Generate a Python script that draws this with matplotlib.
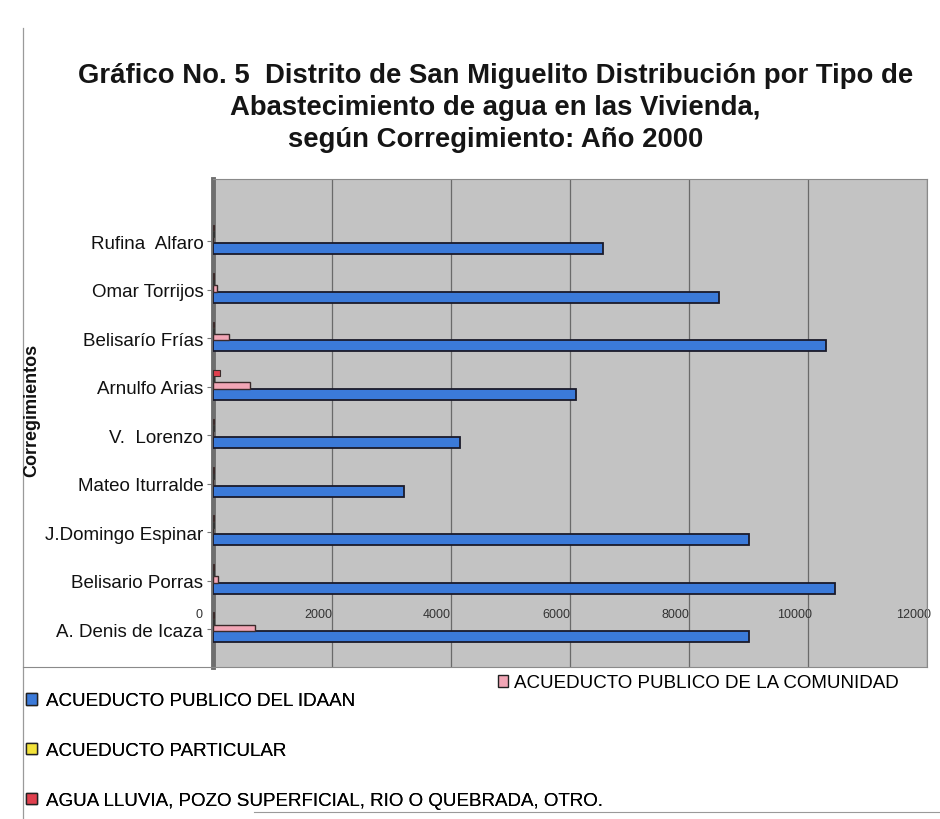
import matplotlib
matplotlib.use("Agg")
import matplotlib.pyplot as plt
import matplotlib.transforms as mtransforms
import numpy as np
from matplotlib.patches import Patch
from matplotlib.lines import Line2D

plt.rcParams['font.family'] = ['Liberation Sans', 'DejaVu Sans']

# categories, bottom -> top
categories = ["A. Denis de Icaza", "Belisario Porras", "J.Domingo Espinar", "Mateo Iturralde",
              "V.  Lorenzo", "Arnulfo Arias", "Belisarío Frías", "Omar Torrijos", "Rufina  Alfaro"]
idaan      = [9000, 10450, 9000, 3200, 4150, 6100, 10300, 8500, 6550]
comunidad  = [700, 80, 0, 0, 0, 620, 270, 60, 0]
particular = [20, 15, 20, 15, 20, 20, 20, 15, 10]
otro       = [20, 15, 15, 10, 15, 110, 20, 15, 10]

series_names = ["ACUEDUCTO PUBLICO DEL IDAAN", "ACUEDUCTO PUBLICO DE LA COMUNIDAD",
                "ACUEDUCTO PARTICULAR", "AGUA LLUVIA, POZO SUPERFICIAL, RIO O QUEBRADA, OTRO."]
colors = ["#3b7ad9", "#f2a6b6", "#f2e23a", "#e0404e"]

x_ticks = [0, 2000, 4000, 6000, 8000, 10000, 12000]

fig = plt.figure(figsize=(9.4, 8.2), dpi=100)
ax = fig.add_axes([0.2266, 0.185, 0.760, 0.595])
ax.set_facecolor("#c3c3c3")

y = np.arange(len(categories))
ax.barh(y - 0.15, idaan, height=0.22, color=colors[0], edgecolor="#1a1a2a", linewidth=1.3, zorder=3)
ax.barh(y + 0.03, comunidad, height=0.14, color=colors[1], edgecolor="#3a2a2a", linewidth=1.0, zorder=3)
ax.barh(y + 0.16, particular, height=0.12, color=colors[2], edgecolor="#333333", linewidth=0.8, zorder=3)
ax.barh(y + 0.29, otro, height=0.12, color=colors[3], edgecolor="#3a2a2a", linewidth=0.8, zorder=3)

ax.set_xlim(0, 12000)
ax.set_ylim(-0.78, 9.28)
ax.set_xticks(x_ticks)
ax.set_xticklabels([str(t) for t in x_ticks], fontsize=9, color="#333333")
ax.tick_params(axis='x', length=0, pad=-43)
shift = mtransforms.ScaledTranslation(-14 / 100, 0, fig.dpi_scale_trans)
for lab in ax.get_xticklabels():
    lab.set_transform(lab.get_transform() + shift)
ax.set_yticks(y)
ax.set_yticklabels(categories, fontsize=13.5, color="#111111")
ax.tick_params(axis='y', length=4, color="#777777", pad=3)
ax.grid(axis='x', color="#6a6a6a", linewidth=0.9, zorder=1)
ax.set_axisbelow(True)
for s in ["top", "right", "bottom"]:
    ax.spines[s].set_color("#8a8a8a")
    ax.spines[s].set_linewidth(0.8)
ax.spines["left"].set_color("#6e6e6e")
ax.spines["left"].set_linewidth(3.5)

fig.text(0.034, 0.50, "Corregimientos", rotation=90, fontsize=13, fontweight="bold",
         ha="center", va="center", color="#111111")

title_lines = ["Gráfico No. 5  Distrito de San Miguelito Distribución por Tipo de",
               "Abastecimiento de agua en las Vivienda,",
               "según Corregimiento: Año 2000"]
for i, line in enumerate(title_lines):
    fig.text(0.527, 1 - (76 + 32 * i) / 820, line, fontsize=19.8, fontweight="bold",
             ha="center", va="center", color="#151515")

# frame lines
fig.add_artist(Line2D([0.024, 0.024], [0.0, 0.965], color="#9a9a9a", linewidth=0.9))
fig.add_artist(Line2D([0.024, 0.2266], [0.185, 0.185], color="#8a8a8a", linewidth=0.8))
fig.add_artist(Line2D([0.27, 1.0], [0.008, 0.008], color="#9a9a9a", linewidth=0.8))

# legends
h = [Patch(facecolor=c, edgecolor="#222222", linewidth=1.0) for c in colors]
leg1 = fig.legend([h[0], h[2], h[3]], [series_names[0], series_names[2], series_names[3]],
                  loc="upper left", bbox_to_anchor=(0.02, 1 - 686 / 820), frameon=False,
                  fontsize=13.5, handlelength=0.55, handleheight=0.55, handletextpad=0.5,
                  labelspacing=1.75, borderaxespad=0)
fig.legend([h[1]], [series_names[1]], loc="upper left", bbox_to_anchor=(0.522, 1 - 668 / 820),
           frameon=False, fontsize=13.5, handlelength=0.55, handleheight=0.55,
           handletextpad=0.3, borderaxespad=0)
fig.add_artist(leg1)

fig.savefig("out.png", dpi=100, facecolor="white")
